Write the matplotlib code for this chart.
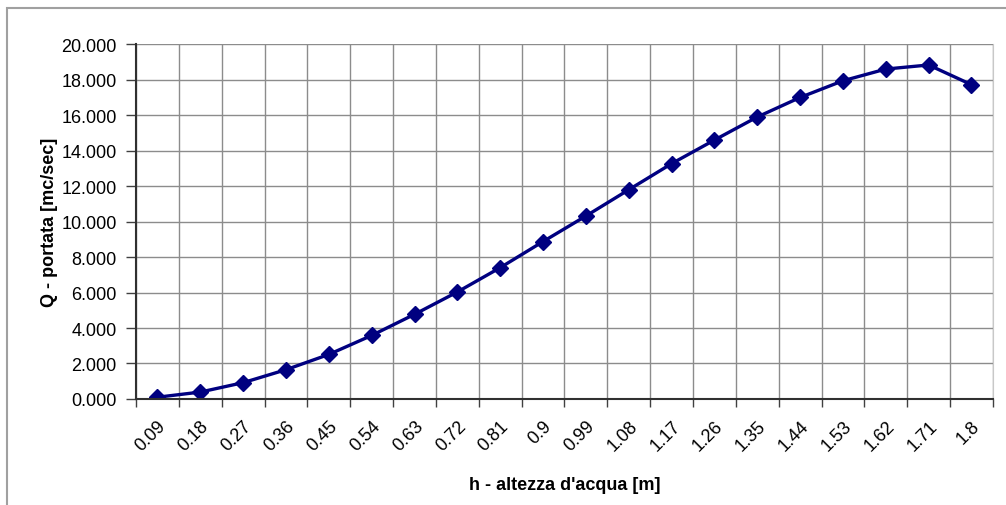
import numpy as np
import matplotlib.pyplot as plt
from matplotlib.patches import Rectangle

plt.rcParams['font.family'] = ['Liberation Sans', 'DejaVu Sans']

# water height categories and discharge
h_labels = ["0.09", "0.18", "0.27", "0.36", "0.45", "0.54", "0.63", "0.72", "0.81", "0.9",
            "0.99", "1.08", "1.17", "1.26", "1.35", "1.44", "1.53", "1.62", "1.71", "1.8"]
portata = [0.10, 0.39, 0.92, 1.65, 2.51, 3.58, 4.77, 6.03, 7.40, 8.87,
           10.31, 11.79, 13.26, 14.59, 15.89, 16.99, 17.93, 18.59, 18.82, 17.71]

fig = plt.figure(figsize=(10.06, 5.06), dpi=100)
ax = fig.add_axes([0.1352, 0.2095, 0.8518, 0.7015])

# outer chart frame
fig.patches.append(Rectangle((7 / 1006, -0.05), 1.1, 1 - 9 / 506 + 0.05,
                             transform=fig.transFigure, fill=False,
                             edgecolor='#a0a0a0', lw=1.5))

x = np.arange(len(h_labels))
ax.plot(x, portata, color='#000080', lw=2.4, marker='D', markersize=8,
        markerfacecolor='#000080', markeredgecolor='#000080')

ax.set_xlim(-0.5, len(h_labels) - 0.5)
ax.set_ylim(0, 20)

ax.set_yticks(np.arange(0, 21, 2))
ax.set_yticklabels(['{:.3f}'.format(v) for v in np.arange(0, 21, 2)])
ax.set_xticks(x)
ax.set_xticklabels(h_labels, rotation=45, ha='right', va='top', rotation_mode='anchor')
ax.set_xticks(np.arange(-0.5, len(h_labels), 1), minor=True)

ax.tick_params(axis='x', which='major', length=0, labelsize=13, pad=13)
ax.tick_params(axis='x', which='minor', length=6, width=1, color='#404040')
ax.tick_params(axis='y', length=7, width=1, color='#404040', labelsize=13, pad=7)

ax.grid(True, which='minor', axis='x', color='#8c8c8c', lw=1)
ax.grid(True, which='major', axis='y', color='#8c8c8c', lw=1)
ax.set_axisbelow(True)

ax.spines['top'].set_visible(False)
ax.spines['right'].set_color('#c8c8c8')
ax.spines['left'].set_color('#303030')
ax.spines['bottom'].set_color('#303030')
ax.spines['left'].set_linewidth(1.5)
ax.spines['bottom'].set_linewidth(1.5)

ax.set_xlabel("h - altezza d'acqua [m]", fontsize=13, fontweight='bold', labelpad=16)
ax.set_ylabel("Q - portata [mc/sec]", fontsize=13, fontweight='bold', labelpad=2)

fig.savefig('out.png', dpi=100)
